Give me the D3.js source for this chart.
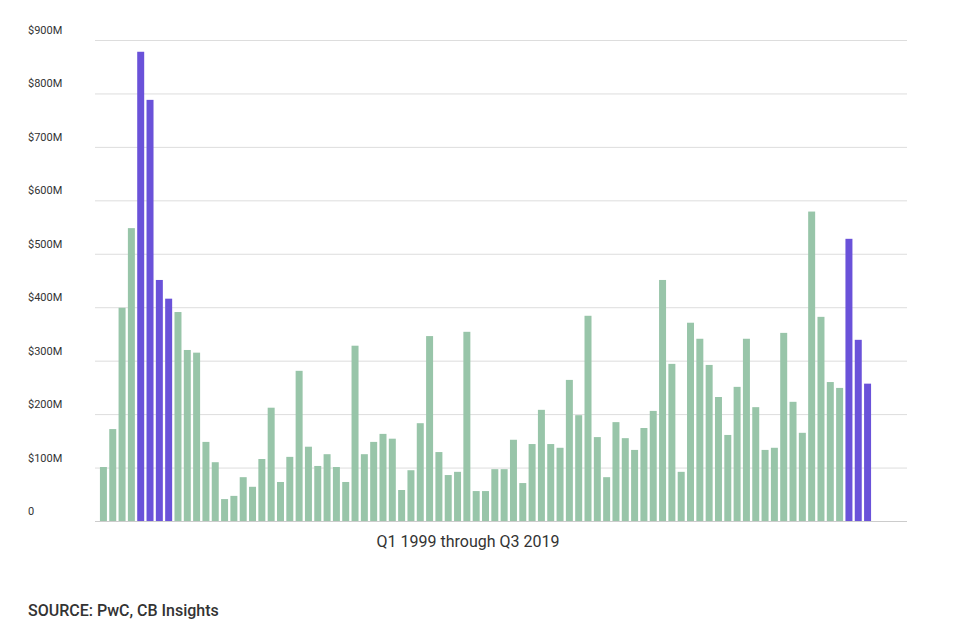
<!DOCTYPE html>
<html><head><meta charset="utf-8">
<script src="https://cdn.jsdelivr.net/npm/d3@7"></script>
<style>body{margin:0;background:#fff;font-family:Roboto,sans-serif}</style>
</head><body>
<svg id="chart" width="954" height="632"></svg>
<script>
// quarterly funding, Q1 1999 .. Q3 2019 ($M)
const values = [101,172,399,548,878,788,451,416,391,320,315,148,110,41,47,82,64,116,212,73,
  120,281,139,103,125,101,73,328,125,148,163,154,58,95,183,346,129,86,92,354,
  56,56,97,97,152,71,144,208,144,137,264,198,384,157,82,185,155,133,174,206,
  451,294,92,371,341,292,232,161,251,341,213,133,137,352,223,165,579,382,260,249,
  528,339,257]
const highlighted = [4, 5, 6, 7, 80, 81, 82]
const yTicks = [0, 100, 200, 300, 400, 500, 600, 700, 800, 900]

const svg = d3.select('#chart')
const x = d3.scaleBand().domain(d3.range(values.length)).range([99, 872]).paddingInner(0.25).paddingOuter(0.1)
const y = d3.scaleLinear().domain([0, 900]).range([521, 40])

svg.append('g').selectAll('line').data(yTicks).join('line')
  .attr('x1', 95).attr('x2', 907)
  .attr('y1', d => y(d) + 0.5).attr('y2', d => y(d) + 0.5)
  .attr('stroke', d => d === 0 ? '#ccc' : '#ddd').attr('stroke-width', 1)

svg.append('g').selectAll('text').data(yTicks).join('text')
  .attr('x', 28).attr('y', d => y(d) - 6)
  .attr('font-size', 11).attr('fill', '#333')
  .text(d => d === 0 ? '0' : '$' + d + 'M')

svg.append('g').selectAll('rect').data(values).join('rect')
  .attr('x', (d, i) => x(i)).attr('width', x.bandwidth())
  .attr('y', d => y(d)).attr('height', d => y(0) - y(d))
  .attr('fill', (d, i) => highlighted.includes(i) ? '#6a52d9' : '#98c5a9')

svg.append('text').attr('x', 468).attr('y', 547).attr('text-anchor', 'middle')
  .attr('font-size', 16).attr('fill', '#333').text('Q1 1999 through Q3 2019')

svg.append('text').attr('x', 28).attr('y', 616)
  .attr('font-size', 16).attr('font-weight', 500).attr('fill', '#333').text('SOURCE: PwC, CB Insights')
</script>
</body></html>
